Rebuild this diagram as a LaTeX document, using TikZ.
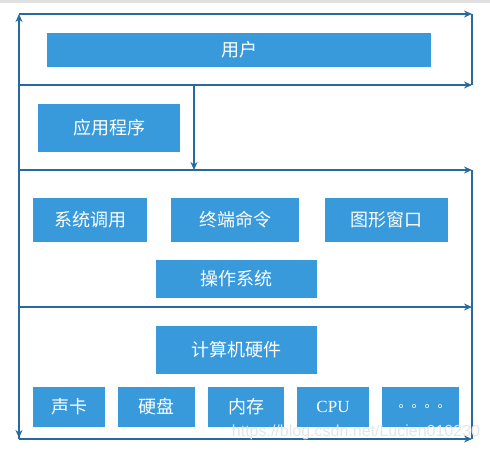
\documentclass[tikz,border=0pt]{standalone}
\usepackage{fontspec}
\setmainfont{Liberation Serif}
\newfontfamily\cjk{Noto Sans CJK SC}
\newfontfamily\cjktc{Noto Sans CJK TC}
\newfontfamily\wm{Liberation Sans}
\usetikzlibrary{arrows.meta}
\definecolor{boxblue}{HTML}{3899DB}
\definecolor{linecol}{HTML}{266A9E}
\tikzset{
  box/.style={fill=boxblue, draw=none, text=white, inner sep=0pt, font=\cjk\fontsize{18}{18}\selectfont},
  plainline/.style={draw=linecol, line width=1.4pt},
  conn/.style={plainline, -{Stealth[length=8pt,width=7pt]}},
}
\begin{document}
\begin{tikzpicture}[x=1pt,y=-1pt]
\useasboundingbox (0,0) rectangle (490,450);
\fill[black!12] (0,0) rectangle (490,2.5);
% coordinates of the frame
\coordinate (LT) at (19,14);
\coordinate (LB) at (19,438);
\coordinate (RT) at (472,14);
\coordinate (R1) at (472,85);
\coordinate (L1) at (19,85);
\coordinate (L2) at (19,170);
\coordinate (R2) at (472,170);
\coordinate (L3) at (19,307);
\coordinate (R3) at (472,307);
\coordinate (L4) at (19,439);
\coordinate (R4) at (472,439);
\coordinate (V1) at (194,85);
\coordinate (V2) at (194,170);
% boxes
\node[box, minimum width=384pt, minimum height=34pt] (user) at (239,50) {用户};
\node[box, minimum width=142pt, minimum height=48pt] (app) at (109,128) {应用程序};
\node[box, minimum width=114pt, minimum height=44pt] (syscall) at (90,220) {系统调用};
\node[box, minimum width=128pt, minimum height=44pt] (term) at (235,220) {终端命令};
\node[box, minimum width=123pt, minimum height=44pt] (gui) at (386.5,220) {图形窗口};
\node[box, minimum width=161pt, minimum height=38pt] (os) at (236.5,279) {操作系统};
\node[box, minimum width=161pt, minimum height=48pt] (hw) at (236.5,350) {计算机硬件};
\node[box, minimum width=72pt, minimum height=40pt] (sound) at (69,407) {声卡};
\node[box, minimum width=77pt, minimum height=40pt] (disk) at (156.5,407) {硬盘};
\node[box, minimum width=76pt, minimum height=40pt] (mem) at (246,407) {内存};
\node[box, minimum width=72pt, minimum height=40pt, font=\rmfamily\fontsize{17}{17}\selectfont] (cpu) at (333,407) {CPU};
\node[box, minimum width=77pt, minimum height=40pt, font=\cjktc\fontsize{13}{13}\selectfont] (dots) at (420.5,407) {\smash{\raisebox{-4.5pt}{。。。。}}};
% frame lines
\draw[conn] (L1) -- (LT);
\draw[plainline] (L1) -- (L4);
\draw[conn] (L3) -- (LB);
\draw[conn] (LT) -- (RT);
\draw[plainline] (RT) -- (R1);
\draw[conn] (L1) -- (R1);
\draw[conn] (V1) -- (V2);
\draw[conn] (L2) -- (R2);
\draw[plainline] (R2) -- (R4);
\draw[conn] (L3) -- (R3);
\draw[conn] (L4) -- (R4);
% watermark
\node[text=black!10, font=\wm\fontsize{16}{16}\selectfont, inner sep=0pt] (wmark) at (356,432) {https://blog.csdn.net/Lucien010230};
\end{tikzpicture}
\end{document}
